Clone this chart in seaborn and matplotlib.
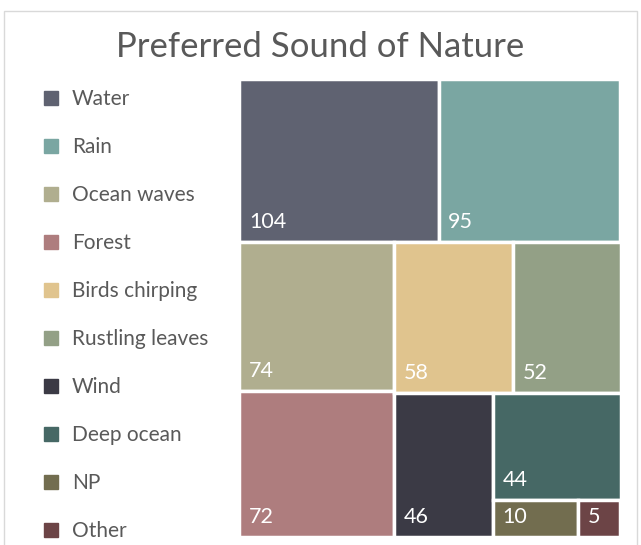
import numpy as np
import pandas as pd
import matplotlib
matplotlib.use("Agg")
import matplotlib.pyplot as plt
import seaborn as sns
from matplotlib.lines import Line2D
from matplotlib.patches import Rectangle

sounds = ["Water", "Rain", "Ocean waves", "Forest", "Birds chirping",
          "Rustling leaves", "Wind", "Deep ocean", "NP", "Other"]
counts = [104, 95, 74, 72, 58, 52, 46, 44, 10, 5]
colors = ["#5f6271", "#7aa6a2", "#b0ae8f", "#ae7d7e", "#e0c48e",
          "#93a086", "#3b3a45", "#466865", "#726d4f", "#6c4446"]


def worst(row, side):
    s = sum(row)
    return max(max(side * side * r / (s * s), s * s / (side * side * r)) for r in row)


def squarify(areas, x, y, w, h):
    # standard squarified treemap, areas already scaled to w*h
    rects = []
    areas = list(areas)
    while areas:
        side = min(w, h)
        row = [areas.pop(0)]
        while areas and worst(row + [areas[0]], side) <= worst(row, side):
            row.append(areas.pop(0))
        s = sum(row)
        if w >= h:
            cw = s / h
            yy = y + h
            for a in row:
                rh = a / cw
                yy -= rh
                rects.append((x, yy, cw, rh))
            x += cw
            w -= cw
        else:
            rh = s / w
            xx = x
            for a in row:
                rw = a / rh
                rects.append((xx, y + h - rh, rw, rh))
                xx += rw
            h -= rh
    return rects


sns.set_theme(style="white")
plt.rcParams["font.family"] = ["Lato", "DejaVu Sans"]

fig = plt.figure(figsize=(6.41, 5.45), dpi=100)
ax = fig.add_axes([239.5 / 641, 8.5 / 545, 381 / 641, 457 / 545])
bw, bh = ax.get_position().width * 6.41, ax.get_position().height * 5.45

vals = np.array(counts, dtype=float)
rects = squarify(vals / vals.sum() * bw * bh, 0, 0, bw, bh)
df = pd.DataFrame(rects, columns=["x", "y", "w", "h"])
df["sound"] = sounds
df["count"] = counts

ax.bar(df["x"], df["h"], width=df["w"], bottom=df["y"], align="edge",
       color=colors, edgecolor="white", linewidth=2.5)
for _, r in df.iterrows():
    ax.annotate(str(r["count"]), xy=(r["x"], r["y"]), xytext=(7, 10),
                textcoords="offset points", ha="left", va="baseline",
                color="white", fontsize=15.5)
ax.set_xlim(0, bw)
ax.set_ylim(0, bh)
ax.axis("off")

handles = [Line2D([], [], marker="s", linestyle="", markersize=10,
                  markerfacecolor=c, markeredgecolor=c) for c in colors]
fig.legend(handles, sounds, loc="upper left", bbox_to_anchor=(40.5 / 641, 1 - 89 / 545),
           frameon=False, fontsize=15, labelcolor="#595959", labelspacing=1.345,
           handletextpad=0.5, handlelength=1.0, borderaxespad=0, borderpad=0)

fig.text(0.5, 1 - 47 / 545, "Preferred Sound of Nature", ha="center", va="center",
         fontsize=25, color="#595959")
fig.patches.append(Rectangle((3.5 / 641, -0.1), 633 / 641, 1.1 - 10.5 / 545,
                             transform=fig.transFigure, fill=False,
                             edgecolor="#d9d9d9", linewidth=1))

fig.savefig("out.png", dpi=100)
